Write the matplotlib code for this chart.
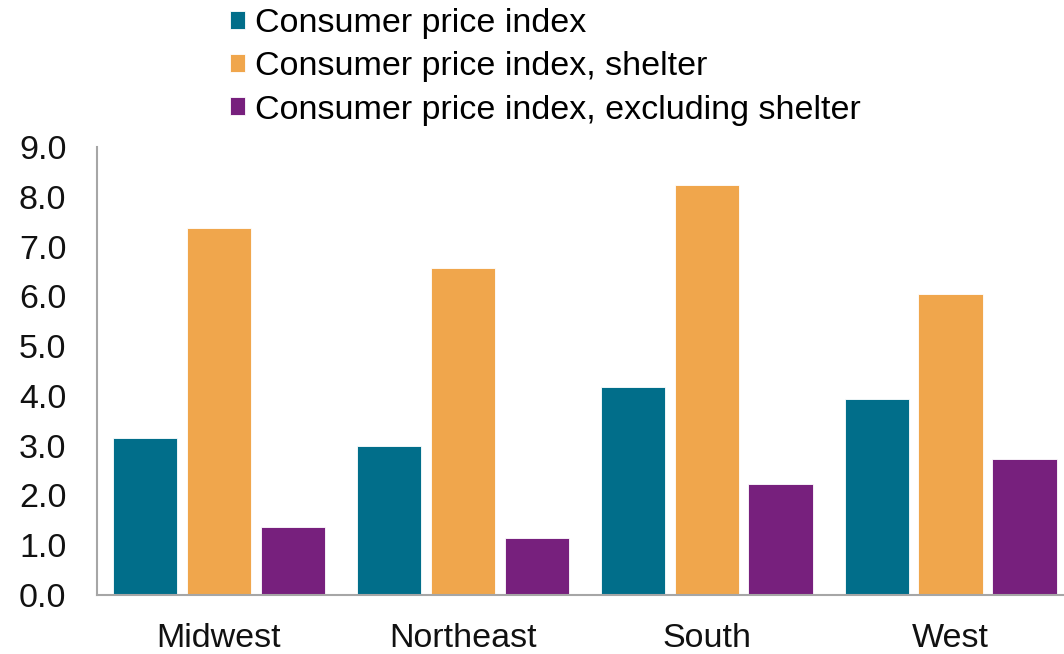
import matplotlib
matplotlib.use("Agg")
import matplotlib.pyplot as plt
import numpy as np

plt.rcParams['font.family'] = ['Liberation Sans', 'DejaVu Sans']

regions = ["Midwest", "Northeast", "South", "West"]
series_names = ["Consumer price index",
                "Consumer price index, shelter",
                "Consumer price index, excluding shelter"]
cpi = [3.15, 2.99, 4.17, 3.94]
cpi_shelter = [7.38, 6.56, 8.23, 6.05]
cpi_ex_shelter = [1.37, 1.14, 2.22, 2.74]
colors = ["#016E8A", "#F0A64C", "#77207D"]
yticks = [0, 1, 2, 3, 4, 5, 6, 7, 8, 9]

fig = plt.figure(figsize=(10.64, 6.54), dpi=100)
ax = fig.add_axes([97/1064, 1 - 595/654, 1 - 97/1064, (595 - 147)/654])

x = np.arange(len(regions))
step = 0.303
width = 0.264
for i, (vals, name, c) in enumerate(zip([cpi, cpi_shelter, cpi_ex_shelter], series_names, colors)):
    ax.bar(x + (i - 1) * step, vals, width=width, color=c, edgecolor="white",
           linewidth=0.6, label=name)

ax.set_ylim(0, 9)
ax.set_xlim(-0.5, 3.465)
ax.set_yticks(yticks)
ax.set_yticklabels([f"{v:.1f}" for v in yticks])
ax.set_xticks(x)
ax.set_xticklabels(regions)
ax.tick_params(axis='y', length=0, pad=22, labelsize=24.5, labelcolor="#111111")
ax.tick_params(axis='x', length=0, pad=20, labelsize=24.5, labelcolor="#111111")
for s in ["top", "right"]:
    ax.spines[s].set_visible(False)
for s in ["left", "bottom"]:
    ax.spines[s].set_color("#a6a6a6")
    ax.spines[s].set_linewidth(1.5)

fig.legend(loc="upper left", bbox_to_anchor=(230/1064, 1 - 8/654), frameon=False,
           fontsize=24.5, handlelength=0.44, handleheight=0.44, handletextpad=0.3,
           labelspacing=0.36, borderaxespad=0, borderpad=0)

fig.savefig("out.png", dpi=100, facecolor="white")
